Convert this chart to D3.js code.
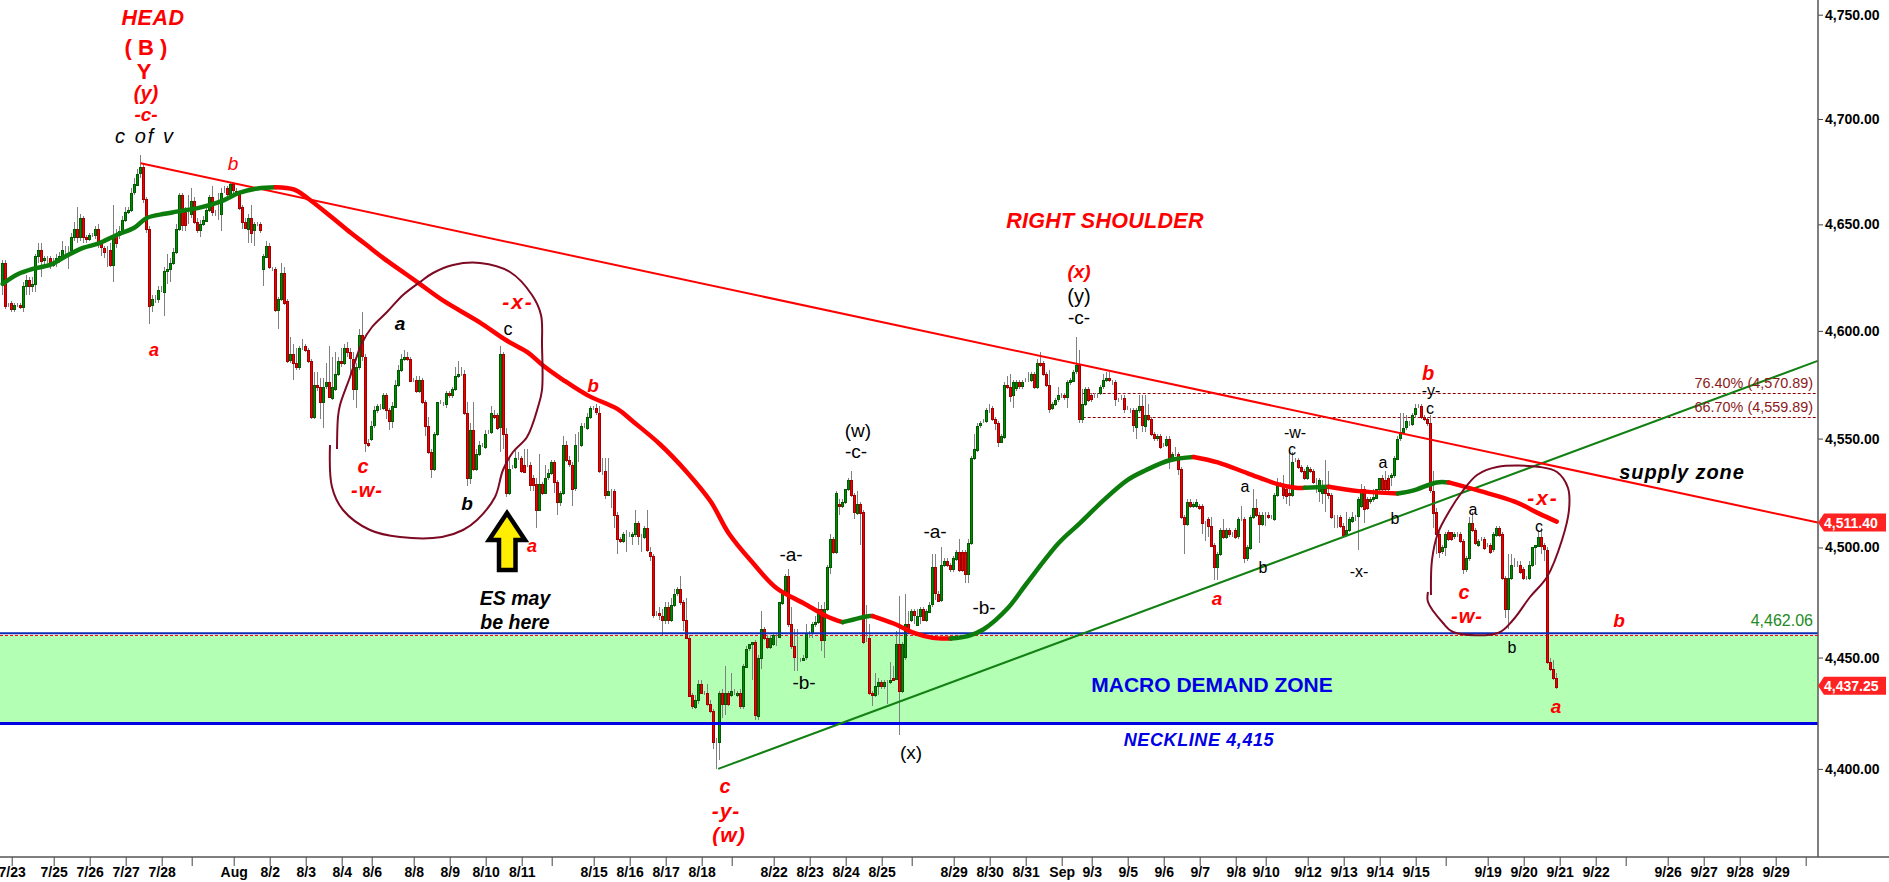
<!DOCTYPE html>
<html lang="en">
<head>
  <meta charset="UTF-8" />
  <title>ES 120 min - Elliott wave chart</title>
  <script src="https://cdn.jsdelivr.net/npm/d3@7/dist/d3.min.js"></script>
  <style>
    html, body { margin: 0; padding: 0; background: #fff; overflow: hidden; }
    svg { display: block; }
    text { font-family: "Liberation Sans", Arial, sans-serif; }
  </style>
</head>
<body>
  <div id="chart"></div>
  <script>
    // prices, one entry per 2 hour bar, 10 bars a row
    const opens = [
      4623,4632,4612,4613,4610,4612,4612,4611,4621,4624,
      4621,4622,4635,4638,4633,4634,4634,4631,4632,4634,
      4635,4638,4638,4638,4644,4648,4644,4653,4644,4643,
      4645,4645,4648,4641,4639,4638,4638,4631,4645,4645,
      4647,4652,4656,4657,4665,4669,4674,4677,4662,4648,
      4612,4615,4615,4619,4618,4628,4629,4632,4637,4648,
      4664,4656,4655,4655,4661,4651,4647,4650,4652,4657,
      4663,4656,4655,4655,4666,4667,4664,4669,4666,4665,
      4658,4651,4648,4653,4647,4650,4650,4629,4635,4640,
      4629,4629,4610,4615,4627,4614,4586,4589,4585,4583,
      4592,4593,4591,4586,4560,4575,4574,4567,4574,4576,
      4569,4573,4580,4586,4585,4592,4590,4587,4573,4583,
      4598,4588,4548,4550,4556,4563,4565,4564,4570,4563,
      4558,4565,4575,4582,4587,4588,4587,4577,4577,4572,
      4577,4567,4556,4544,4536,4552,4567,4566,4566,4571,
      4570,4573,4579,4580,4580,4562,4532,4554,4536,4543,
      4547,4546,4553,4553,4561,4561,4555,4589,4552,4525,
      4537,4537,4541,4541,4538,4538,4538,4532,4529,4517,
      4529,4525,4532,4534,4539,4530,4521,4525,4547,4540,
      4538,4527,4547,4547,4556,4555,4560,4564,4564,4562,
      4535,4535,4524,4526,4526,4515,4504,4503,4506,4506,
      4505,4506,4511,4505,4505,4509,4498,4496,4470,4470,
      4469,4467,4473,4467,4474,4479,4481,4475,4467,4459,
      4433,4428,4431,4438,4434,4434,4429,4426,4412,4412,
      4434,4429,4434,4433,4434,4433,4434,4428,4446,4454,
      4456,4457,4424,4450,4463,4459,4455,4456,4460,4459,
      4475,4479,4487,4465,4455,4450,4449,4449,4450,4461,
      4461,4465,4466,4472,4458,4472,4491,4504,4498,4520,
      4519,4521,4527,4531,4524,4516,4520,4516,4457,4459,
      4434,4433,4437,4439,4437,4439,4439,4441,4440,4456,
      4435,4450,4465,4467,4471,4465,4469,4472,4467,4471,
      4474,4491,4479,4476,4492,4494,4492,4490,4495,4498,
      4498,4498,4488,4502,4541,4545,4556,4558,4558,4564,
      4564,4559,4557,4548,4551,4575,4574,4570,4573,4576,
      4574,4577,4577,4577,4580,4574,4585,4585,4580,4575,
      4564,4566,4568,4570,4570,4569,4576,4577,4581,4584,
      4559,4566,4573,4570,4570,4570,4571,4574,4577,4578,
      4576,4576,4568,4569,4569,4564,4563,4563,4555,4563,
      4565,4556,4561,4559,4552,4550,4551,4547,4547,4550,
      4541,4543,4543,4536,4514,4511,4521,4519,4519,4519,
      4519,4511,4513,4510,4501,4491,4497,4508,4505,4508,
      4506,4508,4505,4513,4513,4495,4500,4514,4518,4515,
      4511,4515,4515,4514,4513,4524,4529,4529,4527,4525,
      4524,4540,4540,4537,4535,4532,4536,4535,4530,4526,
      4525,4527,4525,4524,4514,4514,4514,4510,4506,4508,
      4512,4514,4514,4519,4527,4522,4521,4522,4523,4527,
      4532,4531,4532,4532,4533,4541,4550,4553,4555,4557,
      4557,4561,4565,4565,4560,4559,4557,4526,4516,4506,
      4498,4500,4507,4507,4505,4506,4506,4503,4490,4495,
      4511,4508,4501,4504,4504,4501,4501,4499,4506,4509,
      4506,4486,4472,4486,4492,4492,4492,4490,4486,4486,
      4492,4500,4501,4505,4501,4499,4448,4445,4441
    ];
    const highs = [
      4633,4633,4613,4614,4613,4613,4613,4623,4626,4625,
      4625,4636,4641,4641,4635,4635,4635,4634,4636,4637,
      4642,4640,4640,4646,4651,4658,4655,4654,4645,4646,
      4646,4649,4650,4642,4640,4640,4641,4659,4648,4649,
      4654,4658,4658,4667,4672,4676,4683,4679,4663,4649,
      4617,4617,4621,4621,4630,4636,4634,4639,4650,4665,
      4665,4658,4664,4667,4663,4653,4652,4654,4659,4664,
      4668,4657,4665,4667,4668,4668,4670,4670,4667,4666,
      4659,4653,4655,4659,4651,4651,4651,4636,4642,4641,
      4630,4630,4616,4632,4630,4615,4597,4594,4592,4593,
      4596,4594,4592,4587,4581,4581,4578,4578,4585,4593,
      4588,4590,4588,4592,4594,4595,4592,4590,4585,4601,
      4609,4589,4550,4558,4565,4566,4566,4571,4571,4564,
      4567,4577,4584,4589,4591,4590,4588,4578,4579,4579,
      4578,4568,4560,4545,4553,4567,4568,4567,4572,4572,
      4574,4583,4586,4583,4582,4567,4557,4567,4545,4549,
      4548,4554,4554,4565,4563,4562,4593,4590,4555,4541,
      4538,4545,4544,4542,4545,4545,4539,4533,4532,4543,
      4530,4538,4536,4540,4540,4531,4526,4551,4549,4542,
      4539,4552,4553,4557,4557,4562,4565,4565,4566,4565,
      4541,4541,4541,4527,4527,4516,4505,4507,4508,4507,
      4507,4517,4512,4506,4510,4517,4500,4497,4471,4473,
      4472,4475,4475,4477,4481,4482,4487,4476,4477,4460,
      4434,4433,4440,4440,4435,4438,4431,4427,4414,4435,
      4436,4446,4435,4443,4436,4435,4436,4447,4455,4456,
      4457,4458,4451,4471,4464,4460,4460,4461,4461,4475,
      4480,4488,4490,4473,4463,4463,4450,4451,4465,4462,
      4466,4469,4475,4474,4475,4492,4506,4505,4526,4522,
      4522,4527,4532,4535,4525,4526,4521,4517,4474,4465,
      4435,4443,4441,4440,4440,4440,4448,4446,4462,4478,
      4457,4479,4471,4472,4472,4472,4473,4473,4472,4475,
      4497,4497,4480,4500,4495,4495,4493,4496,4499,4504,
      4499,4499,4504,4542,4552,4557,4558,4559,4564,4566,
      4565,4560,4558,4552,4576,4579,4580,4577,4577,4577,
      4577,4578,4581,4581,4581,4587,4590,4586,4581,4582,
      4567,4569,4574,4571,4571,4577,4578,4582,4597,4591,
      4573,4574,4574,4571,4571,4571,4575,4580,4581,4581,
      4577,4577,4569,4570,4570,4565,4564,4564,4564,4570,
      4570,4570,4566,4560,4553,4552,4552,4548,4551,4551,
      4544,4546,4544,4537,4515,4522,4522,4521,4522,4520,
      4520,4512,4514,4514,4502,4498,4509,4513,4509,4509,
      4507,4509,4514,4519,4514,4501,4515,4527,4522,4516,
      4516,4516,4516,4515,4525,4532,4530,4533,4529,4544,
      4544,4541,4541,4538,4536,4538,4537,4536,4532,4532,
      4531,4540,4535,4525,4515,4515,4515,4511,4516,4514,
      4516,4515,4523,4529,4528,4523,4523,4527,4527,4532,
      4533,4535,4533,4534,4542,4551,4562,4562,4561,4558,
      4562,4566,4566,4566,4561,4560,4561,4535,4518,4507,
      4501,4507,4508,4507,4507,4507,4507,4504,4496,4514,
      4516,4509,4504,4505,4505,4502,4502,4507,4510,4510,
      4507,4487,4497,4497,4495,4494,4494,4491,4487,4494,
      4500,4501,4508,4509,4502,4500,4450,4449,4443
    ];
    const lows = [
      4617,4610,4611,4609,4609,4611,4610,4609,4617,4617,
      4618,4618,4632,4625,4631,4632,4629,4630,4630,4632,
      4633,4636,4629,4636,4642,4641,4642,4641,4641,4642,
      4644,4643,4639,4635,4634,4630,4630,4623,4639,4643,
      4645,4651,4655,4656,4664,4668,4672,4660,4646,4603,
      4609,4613,4613,4618,4607,4622,4623,4631,4636,4647,
      4647,4647,4650,4653,4650,4646,4644,4649,4651,4656,
      4654,4654,4652,4647,4665,4663,4663,4665,4664,4657,
      4648,4648,4641,4641,4640,4649,4646,4621,4634,4629,
      4628,4609,4601,4614,4612,4585,4585,4577,4582,4582,
      4591,4590,4585,4559,4559,4572,4559,4555,4573,4569,
      4568,4572,4579,4583,4584,4588,4578,4568,4564,4582,
      4586,4544,4546,4549,4555,4562,4563,4563,4559,4554,
      4555,4564,4574,4581,4586,4586,4576,4576,4571,4571,
      4566,4551,4543,4532,4535,4551,4566,4565,4564,4569,
      4569,4572,4578,4579,4561,4528,4529,4535,4535,4542,
      4546,4545,4552,4552,4559,4554,4544,4545,4523,4524,
      4536,4536,4540,4534,4534,4537,4526,4526,4509,4517,
      4524,4525,4531,4533,4525,4515,4519,4524,4539,4537,
      4519,4526,4539,4546,4555,4554,4559,4563,4561,4534,
      4533,4522,4524,4518,4509,4497,4502,4502,4498,4505,
      4501,4505,4501,4498,4504,4498,4494,4468,4469,4467,
      4460,4465,4465,4466,4473,4478,4474,4462,4459,4432,
      4427,4427,4429,4434,4433,4428,4425,4409,4400,4404,
      4423,4424,4428,4432,4433,4432,4427,4427,4446,4453,
      4440,4422,4422,4445,4458,4454,4454,4455,4455,4459,
      4474,4478,4464,4454,4444,4444,4448,4449,4449,4459,
      4459,4464,4465,4453,4450,4471,4488,4497,4497,4515,
      4518,4520,4526,4523,4513,4515,4501,4456,4457,4433,
      4428,4432,4433,4436,4436,4429,4438,4440,4440,4415,
      4434,4449,4461,4466,4465,4465,4465,4467,4466,4470,
      4473,4476,4476,4475,4491,4491,4489,4489,4494,4489,
      4489,4484,4484,4501,4540,4544,4555,4557,4557,4562,
      4558,4554,4546,4548,4550,4573,4567,4564,4572,4573,
      4573,4576,4576,4576,4573,4573,4583,4579,4574,4562,
      4563,4565,4567,4569,4568,4564,4575,4576,4580,4557,
      4557,4565,4567,4567,4569,4569,4570,4573,4576,4576,
      4575,4565,4567,4568,4562,4563,4562,4553,4550,4562,
      4553,4553,4558,4551,4549,4549,4545,4546,4546,4536,
      4540,4542,4533,4513,4497,4510,4518,4518,4518,4517,
      4506,4503,4505,4500,4485,4485,4496,4504,4504,4505,
      4505,4504,4504,4512,4493,4494,4499,4513,4514,4502,
      4510,4510,4513,4513,4512,4523,4528,4522,4520,4519,
      4523,4539,4536,4534,4531,4531,4534,4529,4525,4521,
      4520,4516,4522,4513,4509,4509,4509,4506,4505,4507,
      4511,4512,4499,4518,4511,4517,4520,4521,4522,4526,
      4526,4526,4526,4528,4532,4540,4549,4552,4554,4556,
      4556,4560,4564,4559,4558,4556,4525,4509,4497,4495,
      4497,4496,4503,4503,4504,4505,4502,4488,4489,4494,
      4507,4501,4500,4503,4499,4500,4497,4498,4505,4505,
      4485,4468,4463,4485,4491,4491,4488,4485,4485,4485,
      4491,4492,4500,4497,4494,4447,4444,4440,4436
    ];
    const closes = [
      4632,4612,4612,4610,4612,4612,4611,4621,4624,4621,
      4622,4635,4638,4633,4634,4634,4632,4632,4634,4635,
      4638,4638,4638,4644,4648,4644,4653,4644,4643,4645,
      4645,4648,4641,4639,4637,4638,4631,4645,4641,4647,
      4652,4656,4657,4665,4669,4674,4677,4662,4648,4612,
      4615,4615,4619,4619,4628,4629,4632,4637,4648,4664,
      4650,4650,4655,4661,4651,4647,4650,4652,4657,4663,
      4656,4656,4655,4665,4666,4664,4669,4666,4665,4658,
      4651,4648,4653,4646,4650,4650,4647,4635,4640,4630,
      4629,4610,4615,4627,4613,4586,4589,4585,4583,4592,
      4592,4591,4586,4560,4575,4574,4567,4574,4576,4569,
      4574,4580,4586,4585,4592,4590,4587,4573,4583,4598,
      4588,4548,4547,4556,4563,4565,4565,4570,4563,4558,
      4565,4575,4582,4587,4588,4587,4577,4577,4572,4577,
      4567,4556,4544,4536,4552,4567,4567,4566,4571,4570,
      4573,4579,4580,4580,4562,4532,4554,4536,4543,4547,
      4547,4552,4553,4562,4560,4555,4589,4552,4525,4536,
      4537,4541,4541,4535,4535,4538,4529,4529,4517,4529,
      4525,4532,4534,4539,4530,4521,4525,4547,4540,4538,
      4527,4547,4547,4556,4556,4560,4564,4564,4562,4535,
      4535,4524,4526,4526,4515,4504,4503,4506,4506,4506,
      4506,4511,4505,4505,4509,4499,4496,4469,4470,4469,
      4467,4473,4467,4474,4479,4481,4475,4467,4459,4433,
      4428,4431,4438,4434,4434,4429,4426,4412,4412,4434,
      4429,4434,4429,4435,4434,4434,4428,4446,4454,4456,
      4457,4424,4450,4463,4459,4455,4459,4460,4460,4475,
      4479,4487,4465,4455,4450,4450,4449,4450,4461,4461,
      4465,4466,4472,4458,4472,4491,4504,4498,4525,4519,
      4521,4527,4531,4524,4516,4520,4516,4457,4457,4434,
      4433,4437,4439,4437,4439,4439,4440,4440,4456,4435,
      4456,4465,4462,4471,4469,4469,4472,4467,4471,4474,
      4491,4479,4476,4492,4494,4492,4490,4495,4498,4490,
      4490,4488,4502,4541,4545,4556,4557,4558,4563,4564,
      4559,4557,4548,4551,4575,4574,4570,4576,4576,4574,
      4576,4577,4577,4580,4574,4585,4584,4580,4575,4564,
      4566,4568,4570,4570,4569,4576,4577,4581,4584,4559,
      4566,4573,4568,4568,4570,4570,4574,4577,4578,4577,
      4576,4568,4568,4569,4564,4564,4563,4556,4563,4565,
      4556,4561,4559,4552,4550,4551,4546,4547,4550,4541,
      4543,4543,4536,4514,4511,4521,4519,4520,4521,4518,
      4511,4511,4510,4501,4491,4497,4508,4505,4508,4506,
      4506,4505,4513,4513,4495,4500,4514,4518,4515,4511,
      4515,4515,4514,4514,4524,4528,4529,4524,4524,4524,
      4539,4540,4537,4535,4532,4537,4535,4530,4530,4531,
      4527,4525,4524,4514,4514,4514,4510,4506,4508,4513,
      4514,4514,4522,4527,4518,4518,4522,4523,4527,4532,
      4527,4527,4527,4533,4541,4550,4553,4555,4558,4557,
      4561,4564,4565,4560,4559,4557,4526,4516,4506,4498,
      4500,4506,4504,4504,4506,4506,4503,4490,4495,4511,
      4508,4502,4503,4504,4500,4501,4498,4506,4509,4506,
      4486,4472,4486,4492,4492,4492,4489,4486,4486,4492,
      4500,4501,4505,4501,4499,4448,4445,4441,4437
    ];

    // moving average, bar number and price
    const maBars = [0,5,10,16,21,27,32,38,44,48,54,58,66,73,79,85,91,97,102,110,116,121,127,133,139,147,159,168,175,180,187,195,205,210,219,228,236,242,250,258,267,275,280,289,290,297,304,310,316,322,327,335,341,352,359,367,375,381,389,397,405,415,425,431,434,442,452,465,470,478,482,492,504,512,518];
    const maValues = [4622,4626.5,4629,4631,4635,4639,4641,4645,4648.5,4653,4655,4656,4658,4661,4665,4667,4667.6,4666.5,4662,4653,4646,4640.6,4634,4628,4622,4614,4604,4595.5,4590,4584,4577,4570,4563.6,4558,4547.5,4534.6,4521,4506.5,4493,4481.4,4474.6,4468.5,4466,4468.8,4468.8,4465.4,4461,4458.9,4458.6,4459.8,4462.8,4472.3,4483,4502,4511,4521.7,4531,4535.4,4540,4541.5,4539,4534,4529,4527.3,4527.3,4527.8,4525.8,4524.7,4526,4529.8,4529.8,4526,4521,4515.6,4511.8];
    const maTurns = [0,91,280,290,316,397,434,442,465,482,518];

    // date axis
    const tickBars = [3,17,29,41,53,63,77,89,101,113,123,137,149,161,173,183,197,209,221,233,243,257,269,281,293,303,317,329,341,353,363,375,387,399,411,421,435,447,459,471,481,495,507,519,531,541,555,567,579,591,601];
    const tickLabels = ["7/23","7/25","7/26","7/27","7/28","","Aug","8/2","8/3","8/4","8/6","8/8","8/9","8/10","8/11","","8/15","8/16","8/17","8/18","","8/22","8/23","8/24","8/25","","8/29","8/30","8/31","Sep","9/3","9/5","9/6","9/7","9/8","9/10","9/12","9/13","9/14","9/15","","9/19","9/20","9/21","9/22","","9/26","9/27","9/28","9/29",""];
    const priceTicks = [4400,4450,4500,4550,4600,4650,4700,4750];

    // levels and trend lines
    const zoneTop = 4460;
    const zoneTopLine = 4461;
    const zoneBottom = 4420.3;
    const fibLevels = [4570.89, 4559.89];
    const fibLabels = ["76.40% (4,570.89)", "66.70% (4,559.89)"];
    const fibStartBar = 360;
    const redTrendBars = [46, 605];
    const redTrendPrices = [4678.9, 4511.4];
    const greenTrendBars = [238.5, 605];
    const greenTrendPrices = [4400, 4586];
    const lastPrices = [4511.40, 4437.25];

    // layout
    const width = 1889, height = 882;
    const axisX = 1818, axisY = 857;
    const redFill = "#f00000", redEdge = "#a00000";
    const greenFill = "#008a00", greenEdge = "#005a00";
    const annRed = "#ff0000", annBlack = "#000", annBlue = "#0000e6", maroon = "#7d0a22";

    const x = d3.scaleLinear().domain([0, 605]).range([2.7, 1817.7]);
    const y = d3.scaleLog().domain([4400, 4750]).range([768.9, 14.7]);

    const svg = d3.select("#chart").append("svg")
      .attr("width", width).attr("height", height)
      .style("background", "#fff");

    // demand zone
    svg.append("rect")
      .attr("x", 0).attr("y", y(zoneTop))
      .attr("width", axisX).attr("height", y(zoneBottom) - y(zoneTop))
      .attr("fill", "#b3ffb3");

    svg.append("line")
      .attr("x1", 0).attr("x2", axisX).attr("y1", y(zoneTop)).attr("y2", y(zoneTop))
      .attr("stroke", "#ff0000").attr("stroke-width", 1).attr("stroke-dasharray", "3,2");

    // fib lines
    svg.selectAll(".fib").data(fibLevels).enter().append("line")
      .attr("class", "fib")
      .attr("x1", x(fibStartBar)).attr("x2", axisX)
      .attr("y1", d => Math.round(y(d)) + 0.5).attr("y2", d => Math.round(y(d)) + 0.5)
      .attr("stroke", "#8b0000").attr("stroke-width", 1).attr("stroke-dasharray", "3,2");

    // candles, 3px wide with a darker edge
    const bars = d3.range(opens.length);
    const candles = svg.append("g").attr("shape-rendering", "crispEdges");
    candles.selectAll(".wick").data(bars).enter().append("line")
      .attr("class", "wick")
      .attr("x1", i => Math.floor(x(i)) + 0.5).attr("x2", i => Math.floor(x(i)) + 0.5)
      .attr("y1", i => y(highs[i])).attr("y2", i => y(lows[i]))
      .attr("stroke", "#808080").attr("stroke-width", 1);
    candles.selectAll(".body").data(bars).enter().append("rect")
      .attr("class", "body")
      .attr("x", i => Math.floor(x(i)) - 0.5)
      .attr("width", 2)
      .attr("y", i => Math.round(y(Math.max(opens[i], closes[i]))) + 0.5)
      .attr("height", i => Math.max(0, Math.round(Math.abs(y(opens[i]) - y(closes[i])))))
      .attr("fill", i => closes[i] < opens[i] ? redFill : greenFill)
      .attr("stroke", i => closes[i] < opens[i] ? redEdge : greenEdge)
      .attr("stroke-width", 1);

    // blue zone lines go over the candles
    svg.append("line")
      .attr("x1", 0).attr("x2", axisX).attr("y1", y(zoneTopLine)).attr("y2", y(zoneTopLine))
      .attr("stroke", "#0a2fb5").attr("stroke-width", 2);
    svg.append("line")
      .attr("x1", 0).attr("x2", axisX).attr("y1", y(zoneBottom)).attr("y2", y(zoneBottom))
      .attr("stroke", "#0000e6").attr("stroke-width", 3);

    // trend lines
    svg.append("line")
      .attr("x1", x(greenTrendBars[0])).attr("y1", y(greenTrendPrices[0]))
      .attr("x2", x(greenTrendBars[1])).attr("y2", y(greenTrendPrices[1]))
      .attr("stroke", "#128012").attr("stroke-width", 2);
    svg.append("line")
      .attr("x1", x(redTrendBars[0])).attr("y1", y(redTrendPrices[0]))
      .attr("x2", x(redTrendBars[1])).attr("y2", y(redTrendPrices[1]))
      .attr("stroke", "#ff0000").attr("stroke-width", 2);

    // moving average, green going up and red going down
    const maPoints = maBars.map((b, i) => [b, maValues[i]]);
    const maLine = d3.line().x(d => x(d[0])).y(d => y(d[1])).curve(d3.curveCatmullRom);
    d3.pairs(maTurns).forEach(([from, to], k) => {
      svg.append("path")
        .attr("d", maLine(maPoints.filter(d => d[0] >= from && d[0] <= to)))
        .attr("fill", "none")
        .attr("stroke", k % 2 === 0 ? "#0c7d0c" : "#ff0000")
        .attr("stroke-width", 4.5)
        .attr("stroke-linecap", "round");
    });

    // hand drawn circles
    const circleLeft = [[337,449],[338,417],[340,405],[350,377],[362,343],[372,327],[387,312],[403,295],[420,282],[433,273],[453,265],[480,263],[510,272],[532,295],[541,315],[542,345],[542,390],[538,407],[527,437],[513,452],[503,470],[495,497],[477,520],[463,530],[442,537],[400,537],[370,530],[343,510],[332,487],[330,445]];
    const circleRight = [[1431,595],[1432,560],[1438,533],[1450,510],[1462,492],[1477,475],[1497,467],[1540,467],[1557,472],[1568,488],[1569,510],[1562,540],[1547,577],[1530,597],[1513,620],[1498,633],[1453,632],[1443,623],[1428,602],[1428,592]];
    const freehand = d3.line().curve(d3.curveCatmullRom);
    [circleLeft, circleRight].forEach(pts => {
      svg.append("path")
        .attr("d", freehand(pts))
        .attr("fill", "none")
        .attr("stroke", maroon)
        .attr("stroke-width", 2);
    });

    // yellow arrow
    svg.append("path")
      .attr("d", "M507,513 L525,540 L515.5,540 L515.5,570 L499,570 L499,540 L489,540 Z")
      .attr("fill", "#ffee00")
      .attr("stroke", "#000")
      .attr("stroke-width", 4.5)
      .attr("stroke-linejoin", "miter");

    // axes
    const yAxis = d3.axisRight(y).tickValues(priceTicks).tickFormat(d3.format(",.2f")).tickSize(5).tickPadding(2);
    const yG = svg.append("g").attr("transform", `translate(${axisX},0)`).call(yAxis);
    yG.select(".domain").remove();
    yG.selectAll("line").attr("stroke", "#444");
    yG.selectAll("text").attr("fill", "#000")
      .style("font-size", "14px").style("font-weight", "bold").style("font-family", '"Liberation Sans", Arial, sans-serif');

    const xAxis = d3.axisBottom(x).tickValues(tickBars)
      .tickFormat(b => tickLabels[tickBars.indexOf(b)]).tickSize(9).tickPadding(1);
    const xG = svg.append("g").attr("transform", `translate(0,${axisY})`).call(xAxis);
    xG.select(".domain").remove();
    xG.selectAll("line").attr("stroke", "#444");
    xG.selectAll("text").attr("fill", "#000")
      .style("font-size", "14px").style("font-weight", "bold").style("font-family", '"Liberation Sans", Arial, sans-serif');

    svg.append("line").attr("x1", axisX).attr("x2", axisX).attr("y1", 0).attr("y2", axisY)
      .attr("stroke", "#555").attr("stroke-width", 1.5);
    svg.append("line").attr("x1", 0).attr("x2", width).attr("y1", axisY).attr("y2", axisY)
      .attr("stroke", "#555").attr("stroke-width", 1.5);

    // last price badges
    lastPrices.forEach(p => {
      const py = y(p);
      svg.append("path")
        .attr("d", `M${axisX},${py} l6,-9 h62 v18 h-62 Z`)
        .attr("fill", "#ff2222");
      svg.append("text")
        .attr("x", axisX + 6).attr("y", py + 5)
        .attr("fill", "#fff").attr("font-size", 14).attr("font-weight", "bold")
        .text(d3.format(",.2f")(p));
    });

    // level labels
    fibLabels.forEach((t, i) => {
      svg.append("text")
        .attr("x", 1813).attr("y", y(fibLevels[i]) - 5)
        .attr("text-anchor", "end")
        .attr("fill", "#8b1a1a").attr("font-size", 14.4)
        .text(t);
    });
    svg.append("text")
      .attr("x", 1813).attr("y", 626)
      .attr("text-anchor", "end")
      .attr("fill", "#228b22").attr("font-size", 16)
      .text("4,462.06");

    // wave counts and notes: text, x, y, colour, size, bold, italic, letter spacing
    const notes = [
      ["HEAD",153,18,annRed,21.5,1,1,0.5],
      ["( B )",146,47,annRed,22,1,0,0],
      ["Y",144,71,annRed,22,1,0,0],
      ["(y)",146,93,annRed,20,1,1,0],
      ["-c-",146,114,annRed,19,1,1,0],
      ["c of v",145,136,annBlack,20,0,1,2],
      ["b",233,163,annRed,19,0,1,0],
      ["a",154,350,annRed,18,1,1,0],
      ["a",400,323,annBlack,19,1,1,0],
      ["c",363,466,annRed,20,1,1,0],
      ["-w-",367,490,annRed,20,1,1,1],
      ["b",467,503,annBlack,19,1,1,0],
      ["c",508,329,annBlack,18,0,0,0],
      ["-x-",518,301,annRed,21,1,1,2],
      ["b",593,385,annRed,19,1,1,0],
      ["a",532,546,annRed,18,1,1,0],
      ["ES may",515,598,annBlack,19.5,1,1,0],
      ["be here",515,622,annBlack,19.5,1,1,0],
      ["-a-",791,554,annBlack,19,0,0,0],
      ["-b-",804,682,annBlack,19,0,0,0],
      ["-c-",856,451,annBlack,19,0,0,0],
      ["(w)",858,430,annBlack,19,0,0,0],
      ["(x)",911,752,annBlack,19,0,0,0],
      ["-a-",935,531,annBlack,19,0,0,0],
      ["-b-",984,607,annBlack,19,0,0,0],
      ["c",725,786,annRed,20,1,1,0],
      ["-y-",726,810,annRed,21,1,1,1],
      ["(w)",729,834,annRed,21,1,1,1],
      ["RIGHT SHOULDER",1105,221,annRed,21.5,1,1,0.3],
      ["(x)",1079,271,annRed,19,1,1,0],
      ["(y)",1079,296,annBlack,20,0,0,0],
      ["-c-",1079,317,annBlack,19,0,0,0],
      ["supply zone",1682,472,annBlack,20,1,1,0.9],
      ["a",1217,598,annRed,19,1,1,0],
      ["a",1245,486,annBlack,16,0,0,0],
      ["b",1263,567,annBlack,16,0,0,0],
      ["c",1292,449,annBlack,16,0,0,0],
      ["-w-",1295,432,annBlack,16,0,0,0],
      ["b",1428,373,annRed,20,1,1,0],
      ["-y-",1431,390,annBlack,16,0,0,0],
      ["c",1430,408,annBlack,16,0,0,0],
      ["a",1383,462,annBlack,16,0,0,0],
      ["b",1395,518,annBlack,16,0,0,0],
      ["-x-",1359,571,annBlack,16,0,0,0],
      ["a",1473,509,annBlack,16,0,0,0],
      ["-x-",1543,497,annRed,21,1,1,2],
      ["c",1539,526,annBlack,16,0,0,0],
      ["c",1464,592,annRed,20,1,1,0],
      ["-w-",1467,616,annRed,20,1,1,1],
      ["b",1512,647,annBlack,16,0,0,0],
      ["a",1556,706,annRed,19,1,1,0],
      ["b",1619,620,annRed,19,1,1,0],
      ["MACRO DEMAND ZONE",1212,684,annBlue,21,1,0,0],
      ["NECKLINE 4,415",1199,740,annBlue,18,1,1,0.6]
    ];
    svg.selectAll(".note").data(notes).enter().append("text")
      .attr("class", "note")
      .attr("x", d => d[1]).attr("y", d => d[2])
      .attr("text-anchor", "middle")
      .attr("dominant-baseline", "central")
      .attr("fill", d => d[3])
      .attr("font-size", d => d[4])
      .attr("font-weight", d => d[5] ? "bold" : "normal")
      .attr("font-style", d => d[6] ? "italic" : "normal")
      .attr("letter-spacing", d => d[7])
      .text(d => d[0]);
  </script>
</body>
</html>
